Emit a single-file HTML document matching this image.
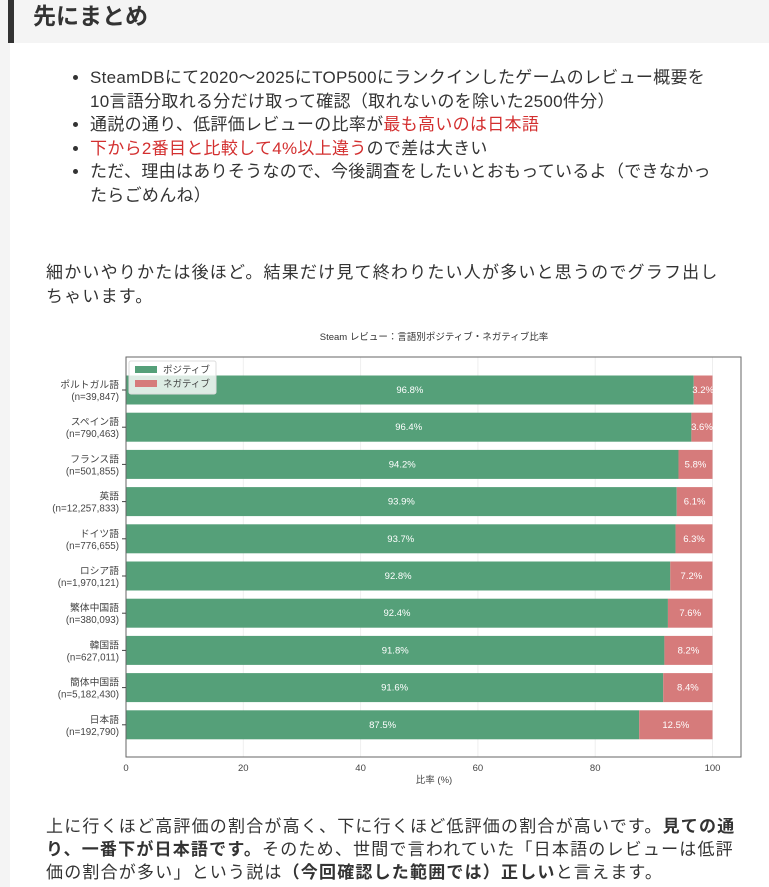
<!DOCTYPE html>
<html><head><meta charset="utf-8"><style>
body{margin:0;width:769px;height:887px;background:#f4f4f4;font-family:"Liberation Sans","Noto Sans CJK JP",sans-serif;overflow:hidden;position:relative;color:#333}
.main{position:absolute;left:10px;top:0;width:759px;height:887px;background:#fff}
.hd{position:absolute;left:8px;top:0;width:761px;height:43px;background:#f4f4f4;border-left:6px solid #333;box-sizing:border-box}
.hd span{position:absolute;left:19px;top:1px;font-size:23px;font-weight:bold;color:#333;line-height:30px}
ul{position:absolute;left:50px;top:66px;margin:0;padding-left:40px;width:668px;font-size:17px;line-height:23.5px;color:#333;letter-spacing:0.3px}
li{margin:0}
.r{color:#d32f2f}
p{position:absolute;margin:0;font-size:17px;line-height:24px;color:#333;letter-spacing:1.2px}
</style></head><body>
<div class="main"></div>
<div class="hd"><span>先にまとめ</span></div>
<ul>
<li>SteamDBにて2020〜2025にTOP500にランクインしたゲームのレビュー概要を<br>10言語分取れる分だけ取って確認（取れないのを除いた2500件分）</li>
<li>通説の通り、低評価レビューの比率が<span class="r">最も高いのは日本語</span></li>
<li><span class="r">下から2番目と比較して4%以上違う</span>ので差は大きい</li>
<li>ただ、理由はありそうなので、今後調査をしたいとおもっているよ（できなかっ<br>たらごめんね）</li>
</ul>
<p style="left:46px;top:261px;width:690px">細かいやりかたは後ほど。結果だけ見て終わりたい人が多いと思うのでグラフ出しちゃいます。</p>
<svg style="position:absolute;left:0;top:0" width="769" height="887" font-family="Liberation Sans, Noto Sans CJK JP, sans-serif">
<text x="434" y="340" font-size="9.5" text-anchor="middle" fill="#333">Steam レビュー：言語別ポジティブ・ネガティブ比率</text>
<g stroke="#eee" stroke-width="1">
<line x1="243.3" y1="357" x2="243.3" y2="757"/><line x1="360.6" y1="357" x2="360.6" y2="757"/><line x1="477.9" y1="357" x2="477.9" y2="757"/><line x1="595.2" y1="357" x2="595.2" y2="757"/><line x1="712.5" y1="357" x2="712.5" y2="757"/>
</g>
<g id="bars" font-size="9.5" fill="#fff" text-anchor="middle"></g>
<rect x="126" y="357" width="615" height="400" fill="none" stroke="#666" stroke-width="1"/>
<g font-size="9.5" fill="#444" text-anchor="middle">
<text x="126" y="771">0</text><text x="243.3" y="771">20</text><text x="360.6" y="771">40</text><text x="477.9" y="771">60</text><text x="595.2" y="771">80</text><text x="712.5" y="771">100</text>
<text x="434" y="783">比率 (%)</text>
</g>
<g id="labels" font-size="9.8" fill="#444" text-anchor="end"></g>
<rect x="129" y="361" width="87" height="33" fill="#fff" fill-opacity="0.8" stroke="#ddd" rx="2"/>
<rect x="135" y="366" width="22" height="7" fill="#55a079"/>
<rect x="135" y="380" width="22" height="7" fill="#d67b7b"/>
<text x="163" y="373" font-size="9.5" fill="#444">ポジティブ</text>
<text x="163" y="387" font-size="9.5" fill="#444">ネガティブ</text>
</svg>
<script>
var d=[["ポルトガル語","39,847",96.8],["スペイン語","790,463",96.4],["フランス語","501,855",94.2],["英語","12,257,833",93.9],["ドイツ語","776,655",93.7],["ロシア語","1,970,121",92.8],["繁体中国語","380,093",92.4],["韓国語","627,011",91.8],["簡体中国語","5,182,430",91.6],["日本語","192,790",87.5]];
var b="",l="",s=5.865,x0=126;
d.forEach(function(r,i){var y=375.5+37.2*i,h=29,w=r[2]*s,c=y+h/2+3;
b+='<rect x="'+x0+'" y="'+y+'" width="'+w+'" height="'+h+'" fill="#55a079"/><rect x="'+(x0+w)+'" y="'+y+'" width="'+(100*s-w)+'" height="'+h+'" fill="#d67b7b"/>';
b+='<text x="'+(x0+w/2)+'" y="'+c+'">'+r[2].toFixed(1)+'%</text><text x="'+(x0+w+(100*s-w)/2)+'" y="'+c+'">'+(100-r[2]).toFixed(1)+'%</text>';
var cy=y+h/2;l+='<text x="119" y="'+(cy-2)+'">'+r[0]+'</text><text x="119" y="'+(cy+10)+'">(n='+r[1]+')</text><line x1="122" y1="'+cy+'" x2="126" y2="'+cy+'" stroke="#444"/>';});
document.getElementById("bars").innerHTML=b;document.getElementById("labels").innerHTML=l;
</script>
<p style="left:46px;top:815px;width:700px;line-height:23px">上に行くほど高評価の割合が高く、下に行くほど低評価の割合が高いです。<b>見ての通り、一番下が日本語です。</b>そのため、世間で言われていた「日本語のレビューは低評価の割合が多い」という説は<b>（今回確認した範囲では）正しい</b>と言えます。</p>
</body></html>
